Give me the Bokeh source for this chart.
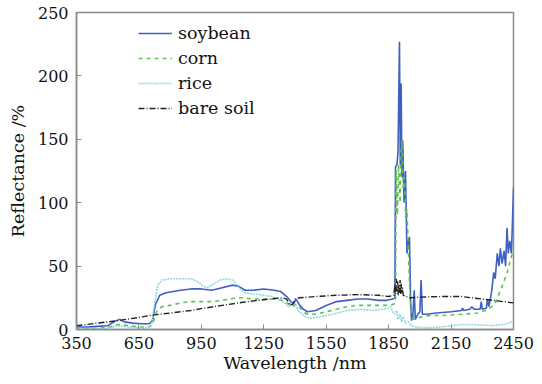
from bokeh.plotting import figure
from bokeh.models import Range1d, FixedTicker, Legend, LegendItem
from bokeh.embed import file_html
from bokeh.resources import INLINE

x_ticks = [350, 650, 950, 1250, 1550, 1850, 2150, 2450]
y_ticks = [0, 50, 100, 150, 200, 250]

soy_wl = [350, 400, 450, 500, 530, 555, 580, 620, 660, 700, 715, 730, 750, 780, 850, 900, 950, 1000, 1050, 1100,
          1130, 1160, 1200, 1250, 1300, 1330, 1360, 1380, 1392, 1405, 1420, 1440, 1460, 1500, 1550, 1600, 1650, 1700,
          1750, 1800, 1840, 1870, 1880, 1883, 1890, 1895, 1902, 1906, 1910, 1914, 1918, 1924, 1931, 1938, 1945, 1950,
          1956, 1960, 1966, 1973, 1978, 1990, 2000, 2006, 2012, 2030, 2080, 2150, 2200, 2205, 2210, 2240, 2250, 2260,
          2290, 2295, 2300, 2320, 2325, 2332, 2345, 2355, 2362, 2372, 2380, 2387, 2395, 2405, 2412, 2419, 2425, 2432,
          2440, 2445, 2450]
soy_r = [2, 2, 2.5, 3, 6, 8, 6, 5, 4.5, 4.5, 7, 20, 27, 29, 31, 32, 32, 31, 33, 35,
         34, 31, 31, 32, 31, 30, 26, 22, 20, 24, 20, 16, 14, 15, 19, 22, 23, 24,
         24, 23, 23, 24, 25, 128, 130, 140, 227, 130, 194, 120, 149, 100, 125, 60, 70, 73,
         20, 7, 10, 31, 8, 12, 14, 39, 12, 12, 13, 14, 15, 17, 15, 16, 18, 16,
         16, 22, 16, 17, 24, 18, 30, 45, 40, 60, 50, 64, 52, 62, 50, 80, 60, 70,
         60, 85, 112]

corn_wl = [350, 450, 500, 550, 600, 650, 700, 715, 735, 760, 800, 850, 900, 950, 1000, 1050, 1100, 1150, 1200,
           1250, 1300, 1340, 1370, 1390, 1405, 1420, 1440, 1460, 1500, 1550, 1600, 1650, 1700, 1750, 1800, 1850,
           1875, 1883, 1886, 1892, 1898, 1905, 1910, 1915, 1920, 1926, 1932, 1938, 1945, 1952, 1958, 1970, 1990,
           2010, 2050, 2100, 2200, 2280, 2330, 2360, 2380, 2400, 2420, 2435, 2450]
corn_r = [1, 1, 1.5, 4, 3, 2, 2, 4, 14, 18, 19, 21, 22, 22, 22, 23, 24.5, 25, 24,
          24, 24, 23, 20, 18, 20, 18, 14, 12, 12, 14, 16, 18, 19, 19, 19, 19,
          20, 22, 125, 90, 130, 100, 140, 149, 110, 120, 88, 95, 60, 30, 12, 8, 9,
          10, 11, 11, 12, 13, 16, 20, 28, 36, 45, 55, 62]

rice_wl = [350, 450, 500, 550, 600, 680, 710, 725, 740, 760, 800, 850, 900, 930, 960, 980, 1000, 1040, 1070, 1100,
           1130, 1160, 1200, 1250, 1290, 1320, 1350, 1370, 1385, 1400, 1420, 1450, 1480, 1520, 1580, 1650, 1720,
           1780, 1820, 1850, 1860, 1870, 1880, 1890, 1895, 1905, 1912, 1920, 1930, 1945, 1960, 1980, 2000, 2050,
           2100, 2150, 2200, 2250, 2300, 2350, 2400, 2430, 2450]
rice_r = [0.5, 0.5, 1, 3, 2, 1, 3, 20, 35, 39, 40, 40, 40, 38, 34, 33, 35, 39, 40, 39,
          33, 29, 28, 27, 26, 24, 21, 18, 21, 20, 14, 10, 9, 10, 12, 15, 16,
          15, 16, 17, 18, 14, 12, 15, 8, 12, 6, 10, 5, 6, 3, 2, 1.5, 1.5,
          2, 3, 4, 4, 3.5, 3, 4, 5, 7]

soil_wl = [350, 450, 550, 650, 700, 800, 900, 950, 1050, 1150, 1250, 1300, 1340, 1360, 1375, 1390, 1400, 1420,
           1500, 1600, 1700, 1800, 1850, 1875, 1880, 1884, 1887, 1890, 1893, 1896, 1899, 1902, 1905, 1908, 1911,
           1914, 1917, 1920, 1950, 2000, 2100, 2200, 2250, 2300, 2350, 2400, 2450]
soil_r = [3, 5, 7, 9.5, 11, 13, 15, 16.5, 19, 21.5, 23.5, 24.5, 25, 24, 19, 20, 24, 25,
          26, 27, 27.5, 27, 26, 27, 36, 28, 40, 30, 38, 27, 35, 29, 39, 28, 36,
          29, 33, 27, 25, 25.5, 26, 26, 25, 24, 23, 22, 21]

FONT = "DejaVu Serif"
GRAY = "#8a8a8a"

p = figure(width=542, height=384, output_backend="svg", toolbar_location=None,
           x_range=Range1d(350, 2450), y_range=Range1d(0, 250),
           min_border_left=76, min_border_right=29, min_border_top=12, min_border_bottom=55)
p.background_fill_color = "white"
p.border_fill_color = "white"
p.outline_line_color = GRAY
p.outline_line_width = 1.5
p.xgrid.visible = False
p.ygrid.visible = False

r_soy = p.line(soy_wl, soy_r, line_color="#3f5fc4", line_width=1.6)
r_corn = p.line(corn_wl, corn_r, line_color="#5cc24a", line_width=1.6, line_dash="4 4")
r_rice = p.line(rice_wl, rice_r, line_color="#8fd6e0", line_width=1.6, line_dash="2 1")
r_soil = p.line(soil_wl, soil_r, line_color="#222222", line_width=1.4, line_dash="6 2 1 2")

for ax, ticks in ((p.xaxis[0], x_ticks), (p.yaxis[0], y_ticks)):
    ax.ticker = FixedTicker(ticks=ticks)
    ax.minor_tick_line_color = None
    ax.major_tick_in = 5
    ax.major_tick_out = 0
    ax.major_tick_line_color = GRAY
    ax.axis_line_color = GRAY
    ax.axis_line_width = 1.5
    ax.major_label_text_font = FONT
    ax.major_label_text_font_size = "16px"
    ax.major_label_text_color = "#111111"
    ax.axis_label_text_font = FONT
    ax.axis_label_text_font_size = "17.5px"
    ax.axis_label_text_font_style = "normal"
    ax.axis_label_text_color = "#111111"

p.xaxis[0].axis_label = "Wavelength /nm"
p.yaxis[0].axis_label = "Reflectance /%"
p.xaxis[0].major_label_standoff = 7
p.xaxis[0].axis_label_standoff = 1
p.yaxis[0].major_label_standoff = 8
p.yaxis[0].axis_label_standoff = 7

legend = Legend(items=[
    LegendItem(label="soybean", renderers=[r_soy]),
    LegendItem(label="corn", renderers=[r_corn]),
    LegendItem(label="rice", renderers=[r_rice]),
    LegendItem(label="bare soil", renderers=[r_soil]),
], location=(62, 211))
legend.border_line_color = None
legend.background_fill_alpha = 0
legend.label_text_font = FONT
legend.label_text_font_size = "17.5px"
legend.label_text_color = "#111111"
legend.glyph_width = 34
legend.glyph_height = 20
legend.label_height = 20
legend.spacing = 5
legend.padding = 0
legend.margin = 0
legend.label_standoff = 6
p.add_layout(legend, "center")

open("out.html", "w").write(file_html(p, INLINE))
